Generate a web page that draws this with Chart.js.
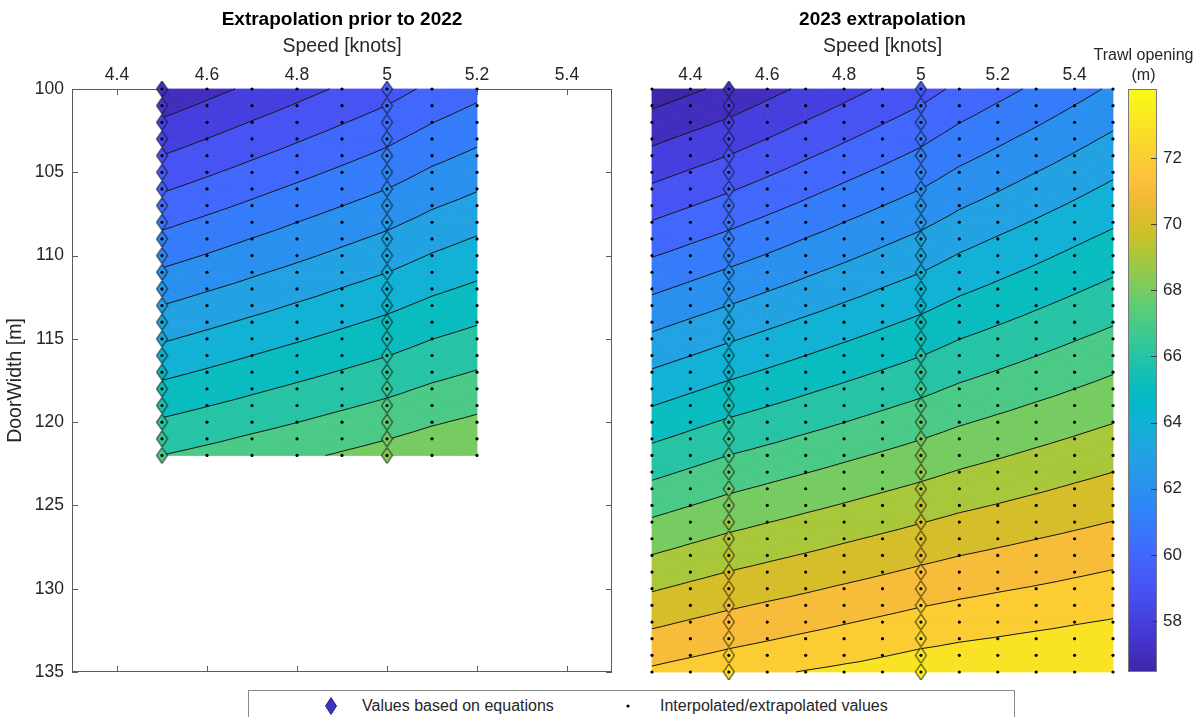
<!DOCTYPE html>
<html>
<head>
<meta charset="utf-8">
<script src="https://cdn.jsdelivr.net/npm/chart.js@4.4.0/dist/chart.umd.min.js"></script>
<style>
  body { margin: 0; background: #fff; }
  #wrap { position: relative; width: 1199px; height: 717px; overflow: hidden; background: #fff;
          font-family: "Liberation Sans", Arial, sans-serif; color: #262626; }
  canvas { position: absolute; top: 0; }
  #legend { position: absolute; left: 248px; top: 690px; width: 767px; height: 34px; box-sizing: border-box;
            border: 1px solid #8c8c8c; background: #fff; font-size: 16px; }
  #legend .t { position: absolute; top: 6px; white-space: nowrap; }
  #legend svg { position: absolute; }
</style>
</head>
<body>
<div id="wrap">
  <canvas id="left" width="640" height="717" style="left:0"></canvas>
  <canvas id="right" width="485" height="717" style="left:640px"></canvas>
  <canvas id="cbar" width="119" height="717" style="left:1080px"></canvas>
  <div id="legend">
    <svg width="12" height="18" style="left:76px;top:6px"><polygon points="6,0.5 11.5,9 6,17.5 0.5,9" fill="#3d33c2" stroke="#2a2480"/></svg>
    <span class="t" style="left:113px">Values based on equations</span>
    <svg width="6" height="6" style="left:376px;top:12px"><circle cx="3" cy="3" r="1.6" fill="#000"/></svg>
    <span class="t" style="left:411px">Interpolated/extrapolated values</span>
  </div>
</div>
<script>
// grid of the 2023 panel
const rightSpeeds = [4.3, 4.4, 4.5, 4.6, 4.7, 4.8, 4.9, 5.0, 5.1, 5.2, 5.3, 5.4, 5.5];
const rightDoorWidths = [100, 101, 102, 103, 104, 105, 106, 107, 108, 109, 110, 111, 112, 113, 114, 115, 116, 117,
  118, 119, 120, 121, 122, 123, 124, 125, 126, 127, 128, 129, 130, 131, 132, 133, 134, 135];
const rightOpening = [
  [56.46, 56.85, 57.23, 57.71, 58.18, 58.66, 59.13, 59.61, 60.21, 60.69, 61.17, 61.66, 62.14],
  [56.91, 57.29, 57.67, 58.14, 58.61, 59.07, 59.54, 60.01, 60.60, 61.07, 61.54, 62.01, 62.48],
  [57.36, 57.74, 58.12, 58.58, 59.04, 59.49, 59.95, 60.41, 60.98, 61.44, 61.90, 62.36, 62.82],
  [57.81, 58.19, 58.56, 59.01, 59.46, 59.91, 60.36, 60.81, 61.37, 61.82, 62.27, 62.72, 63.17],
  [58.25, 58.63, 59.01, 59.45, 59.89, 60.32, 60.76, 61.20, 61.75, 62.19, 62.63, 63.07, 63.51],
  [58.70, 59.08, 59.45, 59.88, 60.31, 60.74, 61.17, 61.60, 62.14, 62.57, 63.00, 63.42, 63.85],
  [59.15, 59.53, 59.90, 60.32, 60.74, 61.16, 61.58, 62.00, 62.52, 62.94, 63.36, 63.77, 64.19],
  [59.60, 59.97, 60.34, 60.75, 61.16, 61.58, 61.99, 62.40, 62.91, 63.31, 63.72, 64.12, 64.53],
  [60.05, 60.42, 60.79, 61.19, 61.59, 62.00, 62.40, 62.80, 63.29, 63.69, 64.08, 64.48, 64.87],
  [60.50, 60.87, 61.23, 61.62, 62.02, 62.41, 62.81, 63.20, 63.68, 64.07, 64.45, 64.84, 65.22],
  [60.95, 61.31, 61.67, 62.05, 62.44, 62.82, 63.21, 63.59, 64.06, 64.44, 64.81, 65.19, 65.56],
  [61.39, 61.76, 62.12, 62.49, 62.87, 63.24, 63.62, 63.99, 64.45, 64.81, 65.17, 65.54, 65.90],
  [61.84, 62.20, 62.56, 62.93, 63.29, 63.66, 64.03, 64.39, 64.83, 65.18, 65.54, 65.89, 66.24],
  [62.29, 62.65, 63.01, 63.37, 63.72, 64.08, 64.43, 64.79, 65.22, 65.56, 65.90, 66.24, 66.58],
  [62.74, 63.10, 63.45, 63.80, 64.15, 64.49, 64.84, 65.19, 65.60, 65.93, 66.26, 66.59, 66.92],
  [63.19, 63.55, 63.90, 64.24, 64.58, 64.91, 65.25, 65.59, 65.99, 66.31, 66.63, 66.95, 67.27],
  [63.64, 63.99, 64.34, 64.67, 65.00, 65.33, 65.65, 65.98, 66.37, 66.68, 66.99, 67.30, 67.61],
  [64.09, 64.44, 64.78, 65.10, 65.42, 65.74, 66.06, 66.38, 66.75, 67.05, 67.35, 67.65, 67.95],
  [64.53, 64.88, 65.23, 65.54, 65.85, 66.16, 66.47, 66.78, 67.14, 67.43, 67.71, 68.00, 68.29],
  [64.98, 65.33, 65.67, 65.97, 66.27, 66.58, 66.88, 67.18, 67.52, 67.80, 68.08, 68.35, 68.63],
  [65.43, 65.78, 66.12, 66.41, 66.70, 66.99, 67.29, 67.58, 67.91, 68.18, 68.44, 68.71, 68.97],
  [65.88, 66.22, 66.56, 66.84, 67.13, 67.41, 67.70, 67.98, 68.30, 68.55, 68.81, 69.06, 69.32],
  [66.33, 66.67, 67.01, 67.28, 67.55, 67.83, 68.10, 68.37, 68.68, 68.92, 69.17, 69.41, 69.66],
  [66.78, 67.11, 67.44, 67.71, 67.97, 68.24, 68.50, 68.77, 69.06, 69.30, 69.53, 69.77, 70.00],
  [67.23, 67.55, 67.87, 68.13, 68.39, 68.65, 68.91, 69.17, 69.45, 69.67, 69.89, 70.12, 70.34],
  [67.68, 67.99, 68.30, 68.55, 68.81, 69.06, 69.32, 69.57, 69.83, 70.04, 70.26, 70.47, 70.68],
  [68.12, 68.43, 68.73, 68.98, 69.23, 69.47, 69.72, 69.97, 70.22, 70.42, 70.62, 70.82, 71.02],
  [68.57, 68.87, 69.16, 69.40, 69.64, 69.89, 70.13, 70.37, 70.61, 70.80, 70.99, 71.18, 71.37],
  [69.02, 69.31, 69.59, 69.83, 70.06, 70.30, 70.53, 70.77, 70.99, 71.17, 71.35, 71.53, 71.71],
  [69.47, 69.75, 70.02, 70.25, 70.48, 70.70, 70.93, 71.16, 71.37, 71.54, 71.71, 71.88, 72.05],
  [69.92, 70.19, 70.45, 70.67, 70.89, 71.12, 71.34, 71.56, 71.76, 71.92, 72.07, 72.23, 72.39],
  [70.37, 70.63, 70.88, 71.10, 71.31, 71.53, 71.74, 71.96, 72.14, 72.29, 72.44, 72.58, 72.73],
  [70.82, 71.07, 71.31, 71.52, 71.73, 71.94, 72.15, 72.36, 72.53, 72.67, 72.80, 72.94, 73.07],
  [71.26, 71.50, 71.74, 71.94, 72.15, 72.35, 72.56, 72.76, 72.92, 73.04, 73.17, 73.29, 73.42],
  [71.71, 71.94, 72.17, 72.37, 72.57, 72.76, 72.96, 73.16, 73.30, 73.42, 73.53, 73.65, 73.76],
  [72.16, 72.40, 72.64, 72.85, 73.05, 73.22, 73.38, 73.55, 73.67, 73.76, 73.84, 73.91, 73.98]
];

// grid of the "prior to 2022" panel
const leftSpeeds = [4.5, 4.6, 4.7, 4.8, 4.9, 5.0, 5.1, 5.2];
const leftDoorWidths = [100, 101, 102, 103, 104, 105, 106, 107, 108, 109, 110, 111, 112, 113, 114, 115, 116, 117,
  118, 119, 120, 121, 122];
const leftOpening = [
  [57.23, 57.71, 58.18, 58.66, 59.13, 59.61, 60.21, 60.69],
  [57.67, 58.14, 58.61, 59.07, 59.54, 60.01, 60.60, 61.07],
  [58.12, 58.58, 59.04, 59.49, 59.95, 60.41, 60.98, 61.44],
  [58.56, 59.01, 59.46, 59.91, 60.36, 60.81, 61.37, 61.82],
  [59.01, 59.45, 59.89, 60.32, 60.76, 61.20, 61.75, 62.19],
  [59.45, 59.88, 60.31, 60.74, 61.17, 61.60, 62.14, 62.57],
  [59.90, 60.32, 60.74, 61.16, 61.58, 62.00, 62.52, 62.94],
  [60.34, 60.75, 61.16, 61.58, 61.99, 62.40, 62.91, 63.31],
  [60.79, 61.19, 61.59, 62.00, 62.40, 62.80, 63.29, 63.69],
  [61.23, 61.62, 62.02, 62.41, 62.81, 63.20, 63.68, 64.07],
  [61.67, 62.05, 62.44, 62.82, 63.21, 63.59, 64.06, 64.44],
  [62.12, 62.49, 62.87, 63.24, 63.62, 63.99, 64.45, 64.81],
  [62.56, 62.93, 63.29, 63.66, 64.03, 64.39, 64.83, 65.18],
  [63.01, 63.37, 63.72, 64.08, 64.43, 64.79, 65.22, 65.56],
  [63.45, 63.80, 64.15, 64.49, 64.84, 65.19, 65.60, 65.93],
  [63.90, 64.24, 64.58, 64.91, 65.25, 65.59, 65.99, 66.31],
  [64.34, 64.67, 65.00, 65.33, 65.65, 65.98, 66.37, 66.68],
  [64.78, 65.10, 65.42, 65.74, 66.06, 66.38, 66.75, 67.05],
  [65.23, 65.54, 65.85, 66.16, 66.47, 66.78, 67.14, 67.43],
  [65.67, 65.97, 66.27, 66.58, 66.88, 67.18, 67.52, 67.80],
  [66.12, 66.41, 66.70, 66.99, 67.29, 67.58, 67.91, 68.18],
  [66.56, 66.84, 67.13, 67.41, 67.70, 67.98, 68.30, 68.55],
  [67.01, 67.28, 67.55, 67.83, 68.10, 68.37, 68.68, 68.92]
];

const equationSpeeds = [4.5, 5.0];
const contourLevels = [57, 58, 59, 60, 61, 62, 63, 64, 65, 66, 67, 68, 69, 70, 71, 72, 73, 74];
const colorLimits = [56.46, 74.08];
const speedTicks = [4.4, 4.6, 4.8, 5.0, 5.2, 5.4];
const doorTicks = [100, 105, 110, 115, 120, 125, 130, 135];
const colorTicks = [58, 60, 62, 64, 66, 68, 70, 72];

// parula (t, r, g, b)
const parulaStops = [
  [0.0000, 0.2422, 0.1504, 0.6603], [0.0635, 0.2706, 0.2147, 0.8364], [0.1429, 0.2810, 0.3228, 0.9579],
  [0.2222, 0.2440, 0.4358, 0.9988], [0.2857, 0.1786, 0.5289, 0.9682], [0.3651, 0.1380, 0.6276, 0.8973],
  [0.4286, 0.0689, 0.6948, 0.8394], [0.4603, 0.0036, 0.7203, 0.7917], [0.4921, 0.0433, 0.7411, 0.7394],
  [0.5714, 0.2161, 0.7843, 0.5923], [0.6349, 0.3909, 0.8029, 0.4354], [0.7143, 0.6720, 0.7793, 0.2227],
  [0.7460, 0.7738, 0.7598, 0.1646], [0.7778, 0.8634, 0.7406, 0.1596], [0.8095, 0.9393, 0.7288, 0.2100],
  [0.8413, 0.9956, 0.7434, 0.2371], [0.9048, 0.9786, 0.8386, 0.1766], [1.0000, 0.9769, 0.9839, 0.0805]
];

const TXT = '#262626';
Chart.defaults.font.family = '"Liberation Sans", Arial, sans-serif';
Chart.defaults.color = TXT;

const cMin = colorLimits[0], cMax = colorLimits[1];

function parula(t) {
  t = Math.max(0, Math.min(1, t));
  for (let k = 1; k < parulaStops.length; k++) {
    const a = parulaStops[k - 1], b = parulaStops[k];
    if (t <= b[0]) {
      const f = (t - a[0]) / (b[0] - a[0]);
      return [1, 2, 3].map(i => Math.round(255 * (a[i] + f * (b[i] - a[i]))));
    }
  }
  return [249, 251, 21];
}
function colorOf(v) {
  const c = parula((v - cMin) / (cMax - cMin));
  return 'rgb(' + c.join(',') + ')';
}

const diamondCache = {};
function diamondImage(color) {
  if (diamondCache[color]) return diamondCache[color];
  const c = document.createElement('canvas');
  c.width = 13; c.height = 18;
  const g = c.getContext('2d');
  g.beginPath();
  g.moveTo(6.5, 1); g.lineTo(12, 9); g.lineTo(6.5, 17); g.lineTo(1, 9); g.closePath();
  g.fillStyle = color; g.fill();
  g.strokeStyle = '#0d0d0d'; g.lineWidth = 1; g.stroke();
  diamondCache[color] = c;
  return c;
}

function gridPoints(speeds, doors, values, only) {
  const pts = [];
  doors.forEach((d, i) => speeds.forEach((s, j) => {
    if (!only || only.includes(s)) pts.push({ x: s, y: d, v: values[i][j] });
  }));
  return pts;
}

function clipPoly(poly, L, above) {
  const out = [];
  for (let k = 0; k < poly.length; k++) {
    const p = poly[k], q = poly[(k + 1) % poly.length];
    const pin = above ? p.v >= L : p.v <= L;
    const qin = above ? q.v >= L : q.v <= L;
    if (pin) out.push(p);
    if (pin !== qin) {
      const t = (L - p.v) / (q.v - p.v);
      out.push({ px: p.px + t * (q.px - p.px), py: p.py + t * (q.py - p.py), v: L });
    }
  }
  return out;
}

// filled contours + contour lines, drawn under the markers
function contourPlugin(cfg) {
  return {
    id: 'contour',
    beforeDatasetsDraw(chart) {
      const { ctx, chartArea: a } = chart;
      const xs = chart.scales.x, ys = chart.scales.y;
      ctx.save();
      if (cfg.box) {
        ctx.strokeStyle = '#5a5a5a';
        ctx.lineWidth = 1;
        ctx.beginPath();
        speedTicks.forEach(v => {
          const px = Math.round(xs.getPixelForValue(v)) + 0.5;
          ctx.moveTo(px, a.top); ctx.lineTo(px, a.top + 6);
          ctx.moveTo(px, a.bottom); ctx.lineTo(px, a.bottom - 6);
        });
        doorTicks.forEach(v => {
          const py = Math.round(ys.getPixelForValue(v)) + 0.5;
          ctx.moveTo(a.left, py); ctx.lineTo(a.left + 6, py);
          ctx.moveTo(a.right, py); ctx.lineTo(a.right - 6, py);
        });
        ctx.stroke();
        ctx.strokeRect(Math.round(a.left) + 0.5, Math.round(a.top) + 0.5, Math.round(a.width) - 1, Math.round(a.height) - 1);
      }
      const P = cfg.doors.map((d, i) => cfg.speeds.map((s, j) => ({
        px: xs.getPixelForValue(s), py: ys.getPixelForValue(d), v: cfg.values[i][j]
      })));
      const tris = [];
      for (let i = 0; i < P.length - 1; i++) {
        for (let j = 0; j < P[i].length - 1; j++) {
          tris.push([P[i][j], P[i][j + 1], P[i + 1][j + 1]], [P[i][j], P[i + 1][j + 1], P[i + 1][j]]);
        }
      }
      const bounds = [-Infinity, ...contourLevels, Infinity];
      ctx.lineJoin = 'round';
      tris.forEach(tri => {
        const vs = tri.map(p => p.v);
        const vmin = Math.min(...vs), vmax = Math.max(...vs);
        for (let k = 0; k < bounds.length - 1; k++) {
          const lo = bounds[k], hi = bounds[k + 1];
          if (hi < vmin || lo > vmax) continue;
          let poly = tri;
          if (lo > -Infinity) poly = clipPoly(poly, lo, true);
          if (hi < Infinity && poly.length) poly = clipPoly(poly, hi, false);
          if (poly.length < 3) continue;
          const col = colorOf(lo === -Infinity ? cMin : lo);
          ctx.beginPath();
          poly.forEach((p, n) => n ? ctx.lineTo(p.px, p.py) : ctx.moveTo(p.px, p.py));
          ctx.closePath();
          ctx.fillStyle = col; ctx.strokeStyle = col; ctx.lineWidth = 0.8;
          ctx.fill(); ctx.stroke();
        }
      });
      ctx.beginPath();
      tris.forEach(tri => contourLevels.forEach(L => {
        const pts = [];
        for (let e = 0; e < 3; e++) {
          const p = tri[e], q = tri[(e + 1) % 3];
          const dp = (p.v - L) || 1e-9, dq = (q.v - L) || 1e-9;
          if (dp * dq < 0) {
            const t = dp / (dp - dq);
            pts.push([p.px + t * (q.px - p.px), p.py + t * (q.py - p.py)]);
          }
        }
        if (pts.length === 2) { ctx.moveTo(pts[0][0], pts[0][1]); ctx.lineTo(pts[1][0], pts[1][1]); }
      }));
      ctx.strokeStyle = '#141414';
      ctx.lineWidth = 1;
      ctx.stroke();
      ctx.restore();
    },
    afterDraw(chart) {
      const { ctx, chartArea: a } = chart;
      ctx.save();
      ctx.font = 'bold 19px "Liberation Sans", Arial, sans-serif';
      ctx.fillStyle = '#000';
      ctx.textAlign = 'center';
      ctx.textBaseline = 'middle';
      ctx.fillText(cfg.title, (a.left + a.right) / 2, 20);
      ctx.restore();
    }
  };
}

function makePanel(id, title, speeds, doors, values, showY, pad) {
  new Chart(document.getElementById(id), {
    type: 'scatter',
    data: {
      datasets: [
        {
          label: 'Interpolated/extrapolated values',
          data: gridPoints(speeds, doors, values),
          pointStyle: 'circle', pointRadius: 1.6, pointHoverRadius: 1.6,
          pointBackgroundColor: '#000', pointBorderWidth: 0, clip: false
        },
        {
          label: 'Values based on equations',
          data: gridPoints(speeds, doors, values, equationSpeeds),
          pointStyle: c => c.raw ? diamondImage(colorOf(c.raw.v)) : 'rectRot',
          pointRadius: 8, pointHoverRadius: 8, clip: false
        }
      ]
    },
    options: {
      responsive: false, animation: false, devicePixelRatio: 1, events: [],
      layout: { padding: pad },
      plugins: { legend: { display: false }, tooltip: { enabled: false } },
      scales: {
        x: {
          type: 'linear', position: 'top', min: 4.3, max: 5.5,
          afterBuildTicks: s => { s.ticks = speedTicks.map(v => ({ value: v })); },
          afterFit: s => { s.height = 89; s.paddingLeft = 0; s.paddingRight = 0; },
          grid: { display: false, drawTicks: false }, border: { display: false },
          ticks: { padding: 3, font: { size: 17.5 }, color: TXT, callback: v => String(Math.round(v * 10) / 10) },
          title: { display: true, text: 'Speed [knots]', font: { size: 19.5 }, color: TXT, padding: { top: 35, bottom: 0 } }
        },
        y: {
          type: 'linear', display: showY, reverse: true, min: 100, max: 135,
          afterBuildTicks: s => { s.ticks = doorTicks.map(v => ({ value: v })); },
          afterFit: s => { if (showY) s.width = 72; s.paddingTop = 0; s.paddingBottom = 0; },
          grid: { display: false, drawTicks: false }, border: { display: false },
          ticks: { padding: 8, font: { size: 17.5 }, color: TXT },
          title: { display: true, text: 'DoorWidth [m]', font: { size: 19.5 }, color: TXT, padding: { top: 4, bottom: 0 } }
        }
      }
    },
    plugins: [contourPlugin({ title, speeds, doors, values, box: showY })]
  });
}

makePanel('left', 'Extrapolation prior to 2022', leftSpeeds, leftDoorWidths, leftOpening, true,
  { top: 0, left: 0, right: 28, bottom: 45 });
makePanel('right', '2023 extrapolation', rightSpeeds, rightDoorWidths, rightOpening, false,
  { top: 0, left: 12, right: 12, bottom: 45 });

// colour bar
const colorbarPlugin = {
  id: 'colorbar',
  afterDraw(chart) {
    const { ctx, chartArea: a } = chart;
    const ys = chart.scales.y;
    ctx.save();
    const g = ctx.createLinearGradient(0, ys.getPixelForValue(cMin), 0, ys.getPixelForValue(cMax));
    parulaStops.forEach(s => g.addColorStop(s[0], 'rgb(' + [s[1], s[2], s[3]].map(c => Math.round(c * 255)).join(',') + ')'));
    ctx.fillStyle = g;
    ctx.fillRect(a.left, a.top, a.width, a.height);
    ctx.strokeStyle = '#7a7a7a';
    ctx.lineWidth = 1;
    ctx.strokeRect(Math.round(a.left) + 0.5, Math.round(a.top) + 0.5, Math.round(a.width) - 1, Math.round(a.height) - 1);
    ctx.strokeStyle = '#3a3a3a';
    ctx.beginPath();
    colorTicks.forEach(v => {
      const py = Math.round(ys.getPixelForValue(v)) + 0.5;
      ctx.moveTo(a.right, py); ctx.lineTo(a.right - 6, py);
    });
    ctx.stroke();
    ctx.fillStyle = TXT;
    ctx.font = '16px "Liberation Sans", Arial, sans-serif';
    ctx.textAlign = 'center';
    ctx.textBaseline = 'middle';
    const cx = (a.left + a.right) / 2 + 1;
    ctx.fillText('Trawl opening', cx, 56);
    ctx.fillText('(m)', cx, 76);
    ctx.restore();
  }
};

new Chart(document.getElementById('cbar'), {
  type: 'scatter',
  data: { datasets: [] },
  options: {
    responsive: false, animation: false, devicePixelRatio: 1, events: [],
    layout: { padding: { top: 89, left: 48, right: 0, bottom: 45 } },
    plugins: { legend: { display: false }, tooltip: { enabled: false } },
    scales: {
      x: { display: false, min: 0, max: 1 },
      y: {
        position: 'right', min: cMin, max: cMax,
        afterBuildTicks: s => { s.ticks = colorTicks.map(v => ({ value: v })); },
        afterFit: s => { s.width = 42; s.paddingTop = 0; s.paddingBottom = 0; },
        grid: { display: false, drawTicks: false }, border: { display: false },
        ticks: { padding: 6, font: { size: 17 }, color: TXT }
      }
    }
  },
  plugins: [colorbarPlugin]
});
</script>
</body>
</html>
